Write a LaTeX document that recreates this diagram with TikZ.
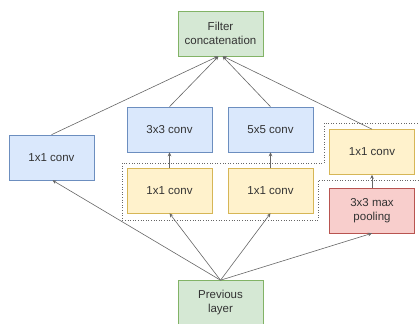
\documentclass[tikz,border=0pt]{standalone}
\usepackage{fontspec}
\setmainfont{Liberation Sans}
\usetikzlibrary{arrows.meta}
\definecolor{bluefill}{HTML}{DAE8FC}\definecolor{blueline}{HTML}{6C8EBF}
\definecolor{greenfill}{HTML}{D5E8D4}\definecolor{greenline}{HTML}{82B366}
\definecolor{yellowfill}{HTML}{FFF2CC}\definecolor{yellowline}{HTML}{D6B656}
\definecolor{redfill}{HTML}{F8CECC}\definecolor{redline}{HTML}{B85450}
\definecolor{txt}{HTML}{333333}
\definecolor{wire}{HTML}{666666}
\tikzset{
  box/.style={rectangle, minimum width=85pt, minimum height=45pt, inner sep=1pt,
    align=center, text=txt, font=\fontsize{11.5}{14}\selectfont, line width=0.6pt},
  bluebox/.style={box, fill=bluefill, draw=blueline},
  greenbox/.style={box, fill=greenfill, draw=greenline},
  yellowbox/.style={box, fill=yellowfill, draw=yellowline},
  redbox/.style={box, fill=redfill, draw=redline},
  flow/.style={draw=wire, line width=0.6pt, -{Stealth[length=4pt,width=3.6pt]}},
  group/.style={draw=wire, line width=0.6pt, dotted}
}
\begin{document}
\begin{tikzpicture}[x=1pt, y=-1pt]
\useasboundingbox (0,0) rectangle (419,323);
\begin{scope}
\clip (0,0) rectangle (419,323);
% layers
\node[greenbox] (fc) at (220.5,33.5) {Filter\\concatenation};
\node[bluebox] (c3) at (169.5,129.5) {3x3 conv};
\node[bluebox] (c5) at (270.5,129.5) {5x5 conv};
\node[bluebox] (l1) at (51.5,157.5) {1x1 conv};
\node[yellowbox] (r1) at (372,152) {1x1 conv};
\node[yellowbox] (m1) at (169.5,190.5) {1x1 conv};
\node[yellowbox] (m2) at (270.5,190.5) {1x1 conv};
\node[redbox] (mp) at (372,210.5) {3x3 max\\pooling};
\node[greenbox] (prev) at (220.5,303) {Previous\\layer};
% dotted outline around the reduction layer
\coordinate (ga) at (122,163);
\coordinate (gb) at (324,163);
\coordinate (gc) at (324,123);
\coordinate (gd) at (425,123);
\coordinate (ge) at (122,220);
\coordinate (gf) at (318,220);
\coordinate (gg) at (318,180);
\coordinate (gh) at (425,180);
\draw[group] (gd) -- (gc) -- (gb) -- (ga) -- (ge) -- (gf) -- (gg) -- (gh);
% connections
\draw[flow] (prev.north) -- ([xshift=1pt]l1.south);
\draw[flow] (prev.north) -- (m1.south);
\draw[flow] (prev.north) -- (m2.south);
\draw[flow] (prev.north) -- (mp.south);
\draw[flow] (m1.north) -- (c3.south);
\draw[flow] (m2.north) -- (c5.south);
\draw[flow] (mp.north) -- (r1.north |- r1.south);
\draw[flow] (l1.north) -- ([xshift=-2.5pt]fc.south);
\draw[flow] (c3.north) -- ([xshift=-2pt]fc.south);
\draw[flow] (c5.north) -- ([xshift=2pt]fc.south);
\draw[flow] (r1.north) -- ([xshift=2.5pt]fc.south);
\end{scope}
\end{tikzpicture}
\end{document}
